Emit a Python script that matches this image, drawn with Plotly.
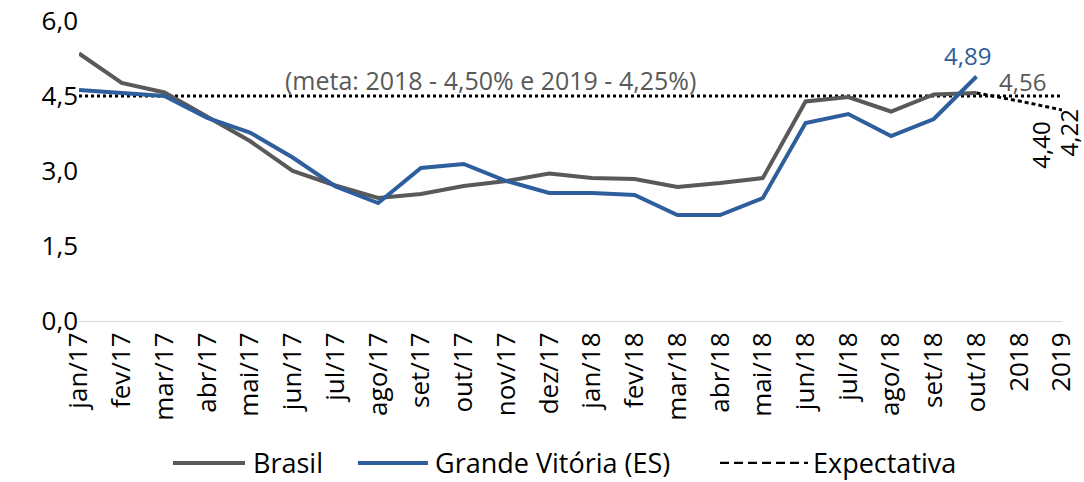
import plotly.graph_objects as go

categorias = ["jan/17","fev/17","mar/17","abr/17","mai/17","jun/17","jul/17","ago/17",
              "set/17","out/17","nov/17","dez/17","jan/18","fev/18","mar/18","abr/18",
              "mai/18","jun/18","jul/18","ago/18","set/18","out/18","2018","2019"]
brasil = [5.35,4.76,4.57,4.08,3.60,3.00,2.71,2.46,2.54,2.70,2.80,2.95,2.86,2.84,2.68,2.76,
          2.86,4.39,4.48,4.19,4.53,4.56,None,None]
vitoria = [4.62,4.55,4.50,4.06,3.77,3.27,2.69,2.36,3.06,3.14,2.80,2.56,2.56,2.52,2.12,2.12,
           2.46,3.96,4.14,3.70,4.04,4.89,None,None]
expectativa = [None]*21 + [4.56,4.40,4.22]
meta = [4.5]*24
yticks = [0.0,1.5,3.0,4.5,6.0]
ytick_text = ["0,0","1,5","3,0","4,5","6,0"]
series_names = ["Brasil", "Grande Vitória (ES)", "Expectativa"]

GRAY = "#595959"
BLUE = "#2E5E9B"
FONT = "Open Sans, Noto Sans, sans-serif"

idx = list(range(len(categorias)))

fig = go.Figure()
fig.add_trace(go.Scatter(x=idx, y=meta, mode="lines", showlegend=False,
                         line=dict(color="black", width=3, dash="dot"), hoverinfo="skip"))
fig.add_trace(go.Scatter(x=idx, y=brasil, mode="lines", name=series_names[0], showlegend=False,
                         line=dict(color=GRAY, width=4)))
fig.add_trace(go.Scatter(x=idx, y=vitoria, mode="lines", name=series_names[1], showlegend=False,
                         line=dict(color=BLUE, width=4)))
fig.add_trace(go.Scatter(x=idx, y=expectativa, mode="lines", name=series_names[2], showlegend=False,
                         line=dict(color="black", width=3, dash="4px,3px")))

# data labels
fig.add_annotation(x=21, y=vitoria[21], text="4,89", showarrow=False,
                   yanchor="bottom", yshift=3, xshift=-9, font=dict(color=BLUE, size=24, family=FONT))
fig.add_annotation(x=21, y=brasil[21], text="4,56", showarrow=False,
                   xanchor="left", xshift=20, yanchor="middle", yshift=12,
                   font=dict(color=GRAY, size=24, family=FONT))
fig.add_annotation(x=22, y=expectativa[22], text="4,40", showarrow=False,
                   textangle=-90, yanchor="top", xanchor="center", yshift=-19, xshift=21,
                   font=dict(color="black", size=24, family=FONT))
fig.add_annotation(x=23, y=expectativa[23], text="4,22", showarrow=False,
                   textangle=-90, yanchor="top", xanchor="center", yshift=2, xshift=6,
                   font=dict(color="black", size=24, family=FONT))
fig.add_annotation(xref="paper", x=0.419, y=4.5, text="(meta: 2018 - 4,50% e 2019 - 4,25%)",
                   showarrow=False, yanchor="bottom", yshift=-3,
                   font=dict(color=GRAY, size=25, family=FONT))

# manual legend (paper coordinates)
LEG_Y = -0.473
legend_items = [
    (0.0956, 0.1689, 0.176, GRAY, 4, "solid"),
    (0.2838, 0.3550, 0.3611, BLUE, 4, "solid"),
    (0.6521, 0.7416, 0.7457, "black", 2.2, "9px,5px"),
]
for (x0, x1, xt, col, w, dash), name in zip(legend_items, series_names):
    fig.add_shape(type="line", xref="paper", yref="paper", x0=x0, x1=x1, y0=LEG_Y, y1=LEG_Y,
                  line=dict(color=col, width=w, dash=dash))
    fig.add_annotation(xref="paper", yref="paper", x=xt, y=LEG_Y, text=name, showarrow=False,
                       xanchor="left", yanchor="middle", borderpad=0,
                       font=dict(size=27, family=FONT, color="black"))

fig.update_layout(
    width=1084, height=482,
    margin=dict(l=79, r=22, t=21, b=161, autoexpand=False),
    paper_bgcolor="white", plot_bgcolor="white",
    font=dict(family=FONT, size=26, color="black"),
    showlegend=False,
    xaxis=dict(range=[0, 23], tickvals=idx, ticktext=categorias, tickangle=-90, showgrid=False,
               showline=True, linecolor="#D9D9D9", linewidth=1, zeroline=False, automargin=False,
               tickfont=dict(size=26), ticks=""),
    yaxis=dict(range=[0, 6.0], tickvals=yticks, ticktext=ytick_text, showgrid=False,
               zeroline=False, showline=False, automargin=False,
               tickfont=dict(size=26), ticks=""),
)
fig.write_html("out.html", config={"displayModeBar": False},
               post_script="document.body.style.margin='0';document.body.style.padding='0';"
                           "document.body.style.overflow='hidden';")
